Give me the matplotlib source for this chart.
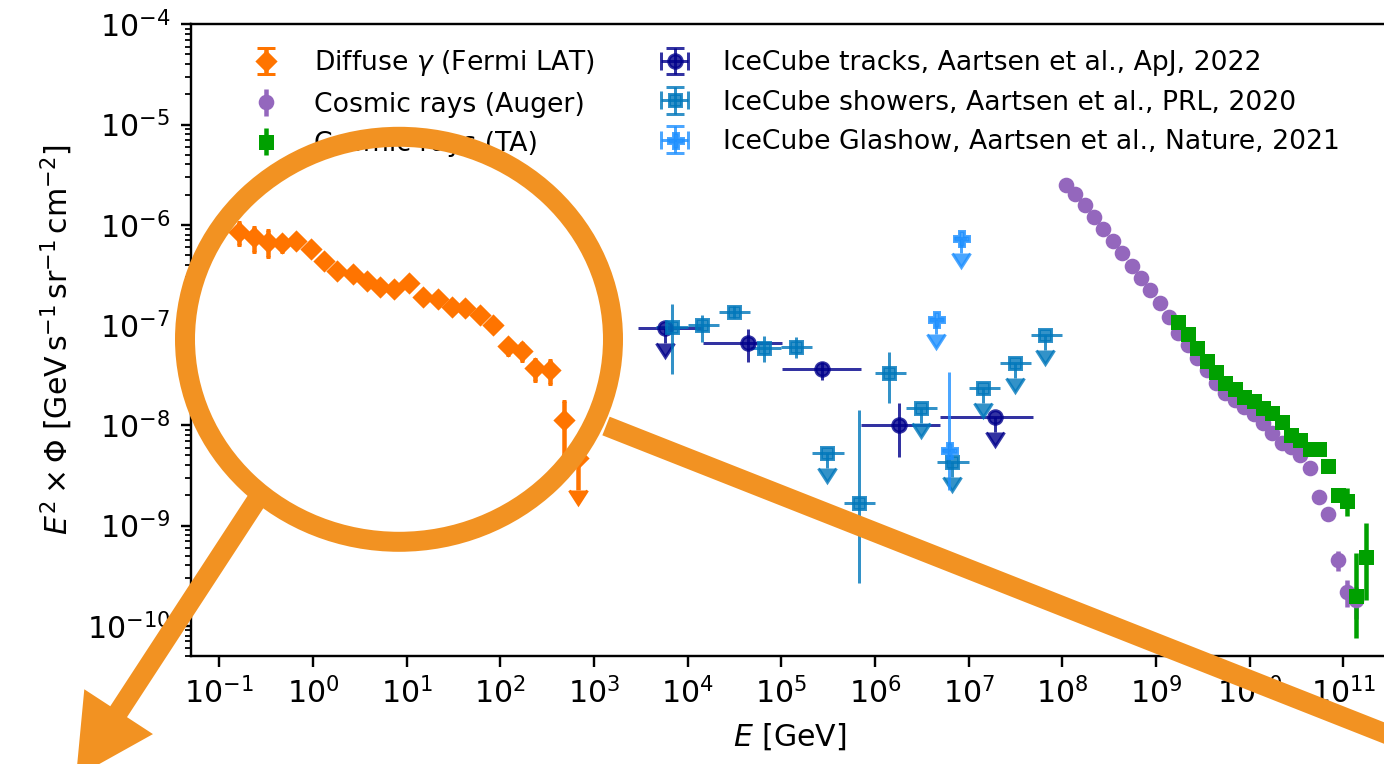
import numpy as np
import matplotlib
matplotlib.use('Agg')
import matplotlib.pyplot as plt
from matplotlib import transforms
from matplotlib.patches import Ellipse, FancyArrow
from matplotlib.ticker import LogLocator, NullLocator

W, H, DPI = 1384, 764, 216

# --- Fermi LAT diffuse gamma-ray background ---
fermi_E = [0.164, 0.236, 0.331, 0.467, 0.664, 0.953, 1.32, 1.83, 2.67, 3.77,
           5.22, 7.43, 10.6, 14.9, 21.4, 30.5, 42.3, 60.1, 84.7, 120,
           170, 236, 341, 482, 684]
fermi_flux = [8.53e-7, 7.50e-7, 6.78e-7, 6.53e-7, 6.89e-7, 5.70e-7, 4.36e-7, 3.48e-7,
              3.21e-7, 2.75e-7, 2.42e-7, 2.28e-7, 2.61e-7, 1.92e-7, 1.81e-7, 1.52e-7,
              1.47e-7, 1.26e-7, 1.00e-7, 6.18e-8, 5.51e-8, 3.71e-8, 3.56e-8, 1.13e-8,
              4.69e-9]
fermi_rel = [0.26, 0.28, 0.30, 0.18, 0.15, 0.12, 0.10, 0.10, 0.10, 0.10,
             0.10, 0.10, 0.10, 0.10, 0.10, 0.10, 0.12, 0.12, 0.15, 0.18,
             0.20, 0.25, 0.27, 0.55, 0.0]
fermi_ul = [False] * 24 + [True]

# --- cosmic rays, Pierre Auger ---
auger_E = [1.10e8, 1.38e8, 1.74e8, 2.19e8, 2.75e8, 3.47e8, 4.37e8, 5.50e8, 6.92e8, 8.71e8,
           1.10e9, 1.38e9, 1.74e9, 2.19e9, 2.75e9, 3.47e9, 4.37e9, 5.50e9, 6.92e9, 8.71e9,
           1.10e10, 1.38e10, 1.74e10, 2.19e10, 2.75e10, 3.47e10, 4.37e10, 5.50e10, 6.92e10,
           8.71e10, 1.10e11, 1.38e11]
auger_flux = [2.49e-6, 2.03e-6, 1.57e-6, 1.21e-6, 9.08e-7, 6.93e-7, 5.27e-7, 3.88e-7,
              2.92e-7, 2.24e-7, 1.65e-7, 1.21e-7, 8.28e-8, 6.32e-8, 4.66e-8, 3.56e-8,
              2.62e-8, 2.11e-8, 1.79e-8, 1.53e-8, 1.29e-8, 1.05e-8, 8.32e-9, 6.61e-9,
              6.03e-9, 5.06e-9, 3.78e-9, 1.94e-9, 1.29e-9, 4.53e-10, 2.19e-10, 1.82e-10]
auger_rel = [0.02] * 26 + [0.04, 0.06, 0.10, 0.22, 0.30, 0.35]

# --- cosmic rays, Telescope Array ---
ta_E = [1.74e9, 2.19e9, 2.75e9, 3.47e9, 4.37e9, 5.50e9, 6.92e9, 8.71e9, 1.10e10, 1.38e10,
        1.74e10, 2.19e10, 2.75e10, 3.47e10, 4.37e10, 5.50e10, 6.92e10, 8.71e10, 1.10e11,
        1.38e11, 1.74e11]
ta_flux = [1.08e-7, 8.09e-8, 5.86e-8, 4.38e-8, 3.38e-8, 2.66e-8, 2.29e-8, 1.93e-8, 1.75e-8,
           1.50e-8, 1.34e-8, 1.07e-8, 8.0e-9, 7.13e-9, 5.75e-9, 5.75e-9, 3.93e-9, 2.02e-9,
           1.76e-9, 1.98e-10, 4.89e-10]
ta_rel_lo = [0.03] * 16 + [0.06, 0.12, 0.30, 0.62, 0.63]
ta_rel_hi = [0.03] * 16 + [0.06, 0.12, 0.35, 1.69, 1.15]

# --- IceCube tracks ---
tracks_E = [5.77e3, 4.37e4, 2.75e5, 1.80e6, 1.91e7]
tracks_E_lo = [2.99e3, 1.45e4, 1.02e5, 7.08e5, 4.9e6]
tracks_E_hi = [1.45e4, 1.02e5, 7.08e5, 4.9e6, 4.9e7]
tracks_flux = [9.29e-8, 6.67e-8, 3.65e-8, 1.01e-8, 1.22e-8]
tracks_lo = [np.nan, 4.31e-8, 2.83e-8, 4.86e-9, np.nan]
tracks_hi = [np.nan, 9.08e-8, 4.31e-8, 1.66e-8, np.nan]
tracks_ul = [True, False, False, False, True]

# --- IceCube showers ---
showers_E = [6.8e3, 1.42e4, 3.1e4, 6.6e4, 1.43e5, 3.07e5, 6.7e5, 1.43e6, 3.1e6, 6.6e6,
             1.42e7, 3.1e7, 6.6e7]
showers_E_lo = [4.64e3, 1e4, 2.15e4, 4.64e4, 1e5, 2.15e5, 4.64e5, 1e6, 2.15e6, 4.64e6,
                1e7, 2.15e7, 4.64e7]
showers_E_hi = [1e4, 2.15e4, 4.64e4, 1e5, 2.15e5, 4.64e5, 1e6, 2.15e6, 4.64e6, 1e7,
                2.15e7, 4.64e7, 1e8]
showers_flux = [9.62e-8, 1.0e-7, 1.36e-7, 5.86e-8, 6.08e-8, 5.26e-9, 1.67e-9, 3.30e-8,
                1.48e-8, 4.34e-9, 2.34e-8, 4.15e-8, 7.96e-8]
showers_lo = [3.23e-8, 6.83e-8, 1.18e-7, 4.31e-8, 4.66e-8, np.nan, 2.65e-10, 1.66e-8,
              np.nan, np.nan, np.nan, np.nan, np.nan]
showers_hi = [1.62e-7, 1.26e-7, 1.55e-7, 7.78e-8, 7.55e-8, np.nan, 1.42e-8, 5.35e-8,
              np.nan, np.nan, np.nan, np.nan, np.nan]
showers_ul = [False, False, False, False, False, True, False, False,
              True, True, True, True, True]

# --- IceCube Glashow resonance ---
glashow_E = [4.51e6, 6.11e6, 8.28e6]
glashow_E_lo = [3.84e6, 5.2e6, 7.05e6]
glashow_E_hi = [5.30e6, 7.18e6, 9.73e6]
glashow_flux = [1.15e-7, 5.68e-9, 7.33e-7]
glashow_lo = [np.nan, 2.26e-9, np.nan]
glashow_hi = [np.nan, 3.43e-8, np.nan]
glashow_ul = [True, False, True]

# arrow length of upper limits, as a fraction of the value
ARROW_NU = 0.29
ARROW_FERMI = 0.52

ORANGE = '#f29222'


def y_errors(flux, lo, hi, ul, arrow):
    flux, lo, hi, ul = map(np.asarray, (flux, lo, hi, ul))
    down = np.where(ul, arrow * flux, flux - lo)
    up = np.where(ul, 0.0, hi - flux)
    return [down, up]


def x_errors(e, lo, hi):
    e = np.asarray(e)
    return [e - np.asarray(lo), np.asarray(hi) - e]


fig = plt.figure(figsize=(W / DPI, H / DPI), dpi=DPI)
ax = fig.add_axes([191 / W, 1 - 656 / H, (1388 - 191) / W, (656 - 24.3) / H])
ax.set_xscale('log')
ax.set_yscale('log')

ff = np.asarray(fermi_flux)
frel = np.asarray(fermi_rel)
ful = np.asarray(fermi_ul)
fermi = ax.errorbar(fermi_E, fermi_flux,
                    yerr=[np.where(ful, ARROW_FERMI * ff, frel * ff), np.where(ful, 0.0, frel * ff)],
                    uplims=fermi_ul, fmt='D', ms=4.2, color='#ff7400', capsize=3,
                    label=r'Diffuse $\gamma$ (Fermi LAT)')

af = np.asarray(auger_flux)
ax.errorbar(auger_E, auger_flux, yerr=np.asarray(auger_rel) * af, fmt='o', ms=4.2,
            color='C4', label='Cosmic rays (Auger)')

tf = np.asarray(ta_flux)
ax.errorbar(ta_E, ta_flux, yerr=[np.asarray(ta_rel_lo) * tf, np.asarray(ta_rel_hi) * tf],
            fmt='s', ms=4.2, color='#00a000', label='Cosmic rays (TA)')

nu_style = dict(alpha=0.8, elinewidth=1.0, capsize=3)
tracks = ax.errorbar(tracks_E, tracks_flux,
                     xerr=x_errors(tracks_E, tracks_E_lo, tracks_E_hi),
                     yerr=y_errors(tracks_flux, tracks_lo, tracks_hi, tracks_ul, ARROW_NU),
                     uplims=tracks_ul, fmt='o', ms=4.5, color='darkblue',
                     label='IceCube tracks, Aartsen et al., ApJ, 2022', **nu_style)
showers = ax.errorbar(showers_E, showers_flux,
                      xerr=x_errors(showers_E, showers_E_lo, showers_E_hi),
                      yerr=y_errors(showers_flux, showers_lo, showers_hi, showers_ul, ARROW_NU),
                      uplims=showers_ul, fmt='s', ms=4, color='#0077bb',
                      label='IceCube showers, Aartsen et al., PRL, 2020', **nu_style)
glashow = ax.errorbar(glashow_E, glashow_flux,
                      xerr=x_errors(glashow_E, glashow_E_lo, glashow_E_hi),
                      yerr=y_errors(glashow_flux, glashow_lo, glashow_hi, glashow_ul, ARROW_NU),
                      uplims=glashow_ul, fmt='P', ms=5, color='dodgerblue',
                      label='IceCube Glashow, Aartsen et al., Nature, 2021', **nu_style)

ax.set_xlim(5e-2, 3e11)
ax.set_ylim(5e-11, 1e-4)
ax.xaxis.set_major_locator(LogLocator(base=10, numticks=20))
ax.xaxis.set_minor_locator(NullLocator())
ax.set_xlabel(r'$E$ [GeV]')
ax.set_ylabel(r'$E^2 \times \Phi$ [$\mathrm{GeV\,s^{-1}\,sr^{-1}\,cm^{-2}}$]')

ax.legend(loc='upper center', ncol=2, frameon=False, fontsize=8.9)

# legend keeps its caps; on the data only the upper-limit arrows stay
for cont, size in [(fermi, 1.5), (tracks, 0), (showers, 0), (glashow, 0)]:
    for cap in cont.lines[1]:
        if cap.get_marker() in ('_', '|'):
            cap.set_markersize(size)

# highlight ring and arrows, laid out in pixels from the top-left corner
to_px = transforms.Affine2D().scale(1 / W, -1 / H).translate(0, 1) + fig.transFigure
fig.add_artist(Ellipse((399, 339.3), 428, 405, fill=False, ec=ORANGE,
                       lw=20 * 72 / DPI, transform=to_px))
fig.add_artist(FancyArrow(262, 492, -186, 285, width=20, head_width=82, head_length=78,
                          length_includes_head=True, color=ORANGE, lw=0, transform=to_px))
fig.add_artist(FancyArrow(606, 426, 930, 367, width=20, head_width=82, head_length=78,
                          length_includes_head=True, color=ORANGE, lw=0, transform=to_px))

fig.savefig('out.png', dpi=DPI)
